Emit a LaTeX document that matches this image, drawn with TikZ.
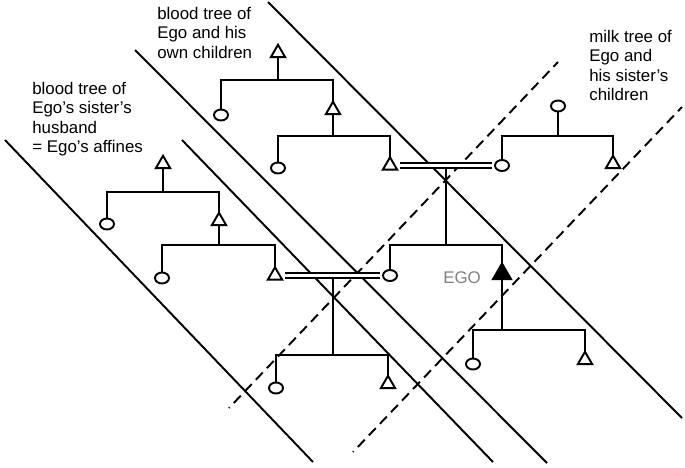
\documentclass[tikz,border=0pt]{standalone}
\usepackage{fontspec}
\setmainfont{Liberation Sans}
\usetikzlibrary{shapes.geometric}
\begin{document}
\begin{tikzpicture}[x=0.02cm,y=-0.02cm,
  tri/.style={regular polygon, regular polygon sides=3, draw, line width=1.1pt, minimum size=0.33cm, inner sep=0pt, outer sep=0pt},
  egotri/.style={tri, fill=black, minimum size=0.42cm},
  circ/.style={ellipse, draw, line width=1.1pt, minimum width=0.28cm, minimum height=0.22cm, inner sep=0pt, outer sep=0pt},
  kin/.style={line width=1pt},
  marriage/.style={double, double distance=0.07cm, line width=0.9pt, shorten <=0.1cm, shorten >=0.06cm},
  band/.style={line width=1.1pt},
  milk/.style={line width=1.1pt, dash pattern=on 0.2cm off 0.12cm, dash phase=0.18cm},
  lbl/.style={align=left, inner sep=0pt, anchor=north west, font=\fontsize{9.6}{11}\selectfont},
  egolab/.style={inner sep=0pt, anchor=west, text=black!50, font=\fontsize{9.6}{11}\selectfont}
]
\useasboundingbox (0,0) rectangle (685,467);

% diagonal bands (solid)
\coordinate (l1a) at (5,140);   \coordinate (l1b) at (313,462);
\coordinate (l2a) at (182,140); \coordinate (l2b) at (493,462);
\coordinate (l3a) at (135,50);  \coordinate (l3b) at (547,463);
\coordinate (l4a) at (268,2);   \coordinate (l4b) at (682,418);
\draw[band] (l1a) -- (l1b);
\draw[band] (l2a) -- (l2b);
\draw[band] (l3a) -- (l3b);
\draw[band] (l4a) -- (l4b);
% milk bands (dashed)
\coordinate (d1a) at (229,408); \coordinate (d1b) at (558,62);
\coordinate (d2a) at (353,452); \coordinate (d2b) at (682,107);
\draw[milk] (d1a) -- (d1b);
\draw[milk] (d2a) -- (d2b);

% people
\node[tri]  (t1) at (278,53) {};
\node[circ] (c1) at (221,115) {};
\node[tri]  (t2) at (333,110) {};
\node[circ] (c2) at (278,168) {};
\node[tri]  (t3) at (390,165.5) {};
\node[circ] (c3) at (502,165.5) {};
\node[circ] (c9) at (558,106) {};
\node[tri]  (t9) at (613,164) {};
\node[tri]  (t6) at (163,164) {};
\node[circ] (c6) at (107,224) {};
\node[tri]  (t7) at (219,221) {};
\node[circ] (c7) at (162,278) {};
\node[tri]  (t4) at (275,275.5) {};
\node[circ] (c4) at (390,275.5) {};
\node[egotri] (ego) at (502,274) {};
\node[circ] (c5) at (276,388) {};
\node[tri]  (t5) at (388,384) {};
\node[circ] (c8) at (473,364) {};
\node[tri]  (t8) at (585,360) {};

% sibling bars
\coordinate (bA) at (278,80);
\coordinate (bB) at (333,136);
\coordinate (bM) at (558,136);
\coordinate (bC) at (446,245);
\coordinate (bD) at (163,192);
\coordinate (bE) at (219,245);
\coordinate (bF) at (333,355);
\coordinate (bG) at (502,330);
\coordinate (m1) at (446,168);
\coordinate (m2) at (333,278);

% blood tree of Ego
\draw[kin] (t1.south) -- (bA);
\draw[kin] (c1.north) -- (c1.north |- bA) -- (t2.north |- bA) -- (t2.north);
\draw[kin] (t2.south) -- (t2.south |- bB);
\draw[kin] (c2.north) -- (c2.north |- bB) -- (t3.north |- bB) -- (t3.north);
% milk tree
\draw[kin] (c9.south) -- (bM);
\draw[kin] (c3.north) -- (c3.north |- bM) -- (t9.north |- bM) -- (t9.north);
% marriage of Ego's parents
\draw[marriage] (t3.east) -- (c3.west);
\draw[kin] (m1) -- (bC);
\draw[kin] (c4.north) -- (c4.north |- bC) -- (ego.north |- bC) -- (ego.north);
% Ego's children
\draw[kin] (ego.south) -- (bG);
\draw[kin] (c8.north) -- (c8.north |- bG) -- (t8.north |- bG) -- (t8.north);
% affines
\draw[kin] (t6.south) -- (bD);
\draw[kin] (c6.north) -- (c6.north |- bD) -- (t7.north |- bD) -- (t7.north);
\draw[kin] (t7.south) -- (t7.south |- bE);
\draw[kin] (c7.north) -- (c7.north |- bE) -- (t4.north |- bE) -- (t4.north);
% marriage of Ego's sister
\draw[marriage] (t4.east) -- (c4.west);
\draw[kin] (m2) -- (bF);
\draw[kin] (c5.north) -- (c5.north |- bF) -- (t5.north |- bF) -- (t5.north);

% labels
\node[lbl] (lab1) at (157,7) {blood tree of\\Ego and his\\own children};
\node[lbl] (lab2) at (32,82) {blood tree of\\Ego’s sister’s\\husband\\= Ego’s affines};
\node[lbl] (lab3) at (589,30) {milk tree of\\Ego and\\his sister’s\\children};
\node[egolab] (egol) at (443,278) {EGO};
\end{tikzpicture}
\end{document}
